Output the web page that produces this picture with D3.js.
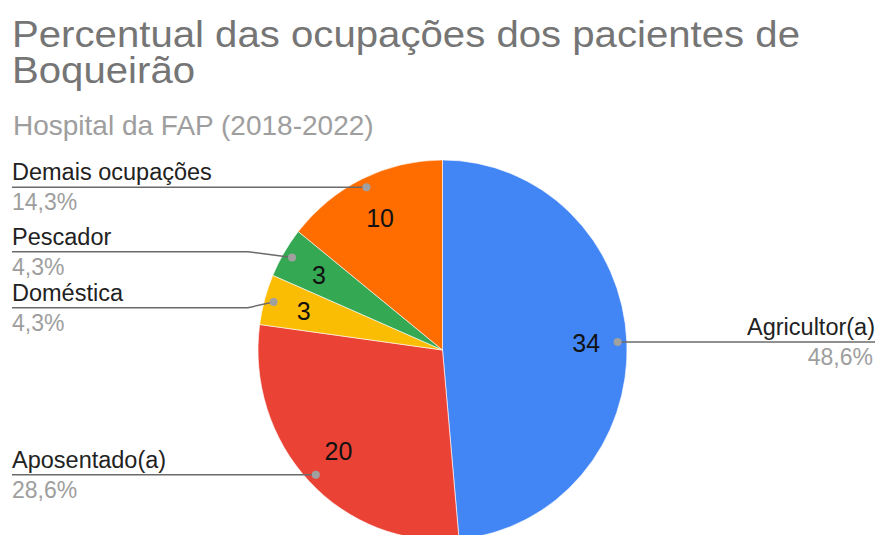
<!DOCTYPE html>
<html>
<head>
<meta charset="utf-8">
<style>
body { margin: 0; background: #fff; }
svg text { font-family: "Liberation Sans", Arial, sans-serif; }
</style>
<script src="https://d3js.org/d3.v7.min.js"></script>
</head>
<body>
<svg width="877" height="535"></svg>
<script>
// data
var categories = ["Agricultor(a)", "Aposentado(a)", "Doméstica", "Pescador", "Demais ocupações"];
var values = [34, 20, 3, 3, 10];
var colors = ["#4285f4", "#ea4335", "#fbbc04", "#34a853", "#ff6d01"];
var titleLines = ["Percentual das ocupações dos pacientes de", "Boqueirão"];
var subtitle = "Hospital da FAP (2018-2022)";

var svg = d3.select("svg"),
    width = +svg.attr("width"),
    height = +svg.attr("height");

var cx = 442.5, cy = 350, r = 184.5, sy = 1.03;
var total = d3.sum(values);
var fmt = function(v) { return d3.format(".1f")(v / total * 100).replace(".", ",") + "%"; };

// titles (the original font runs a bit wider than Arial, so stretch to fit)
var titles = svg.append("g").selectAll("text")
  .data(titleLines)
  .enter().append("text")
    .attr("x", 12)
    .attr("y", function(d, i) { return 47 + i * 36; })
    .attr("fill", "#757575")
    .attr("font-size", 37)
    .text(function(d) { return d; });

var stretch = 788 / titles.node().getComputedTextLength();
titles.each(function() {
  d3.select(this)
    .attr("textLength", this.getComputedTextLength() * stretch)
    .attr("lengthAdjust", "spacingAndGlyphs");
});

svg.append("text")
  .attr("x", 13).attr("y", 135)
  .attr("fill", "#9e9e9e")
  .attr("font-size", 28)
  .text(subtitle);

// pie
var arcs = d3.pie().sort(null).value(function(d) { return d; })(values);
var arc = d3.arc().innerRadius(0).outerRadius(r);

svg.append("g")
  .attr("transform", "translate(" + cx + "," + cy + ") scale(1," + sy + ")")
  .selectAll("path")
  .data(arcs)
  .enter().append("path")
    .attr("d", arc)
    .attr("fill", function(d, i) { return colors[i]; })
    .attr("stroke", "#fff")
    .attr("stroke-width", 0.6);

function pt(a, k) {
  return [cx + k * r * Math.sin(a), cy - k * r * sy * Math.cos(a)];
}

// value labels
svg.append("g").selectAll("text")
  .data(arcs)
  .enter().append("text")
    .attr("x", function(d) { return pt((d.startAngle + d.endAngle) / 2, 0.78)[0]; })
    .attr("y", function(d) { return pt((d.startAngle + d.endAngle) / 2, 0.77)[1]; })
    .attr("text-anchor", "middle")
    .attr("dy", "0.36em")
    .attr("font-size", 25)
    .attr("fill", "#111")
    .text(function(d) { return d.value; });

// leader labels
var items = arcs.map(function(d, i) {
  var a = (d.startAngle + d.endAngle) / 2;
  var p = pt(a, 0.95);
  return { name: categories[i], pct: fmt(d.value), dot: p, y: p[1], left: a > Math.PI };
});

var gap = 56;
[true, false].forEach(function(side) {
  var list = items.filter(function(d) { return d.left === side; })
    .sort(function(a, b) { return a.y - b.y; });
  for (var it = 0; it < 50; it++) {
    for (var j = 1; j < list.length; j++) {
      var over = gap - (list[j].y - list[j - 1].y);
      if (over > 0) { list[j - 1].y -= over / 2; list[j].y += over / 2; }
    }
  }
});

var lab = svg.append("g").selectAll("g")
  .data(items)
  .enter().append("g");

lab.append("path")
  .attr("fill", "none")
  .attr("stroke", "#6b6b6b")
  .attr("stroke-width", 1.5)
  .attr("d", function(d) {
    var ex = d.left ? cx - r - 10 : cx + r + 10;
    var endX = d.left ? 12 : 875;
    return "M" + d.dot[0] + "," + d.dot[1] + "L" + ex + "," + d.y + "L" + endX + "," + d.y;
  });

lab.append("circle")
  .attr("cx", function(d) { return d.dot[0]; })
  .attr("cy", function(d) { return d.dot[1]; })
  .attr("r", 4)
  .attr("fill", "#a0a0a0");

lab.append("text")
  .attr("x", function(d) { return d.left ? 12 : 875; })
  .attr("y", function(d) { return d.y - 7; })
  .attr("text-anchor", function(d) { return d.left ? "start" : "end"; })
  .attr("font-size", 23.5)
  .attr("fill", "#222")
  .text(function(d) { return d.name; });

lab.append("text")
  .attr("x", function(d) { return d.left ? 12 : 873; })
  .attr("y", function(d) { return d.y + 23; })
  .attr("text-anchor", function(d) { return d.left ? "start" : "end"; })
  .attr("font-size", 23)
  .attr("fill", "#9e9e9e")
  .text(function(d) { return d.pct; });
</script>
</body>
</html>
